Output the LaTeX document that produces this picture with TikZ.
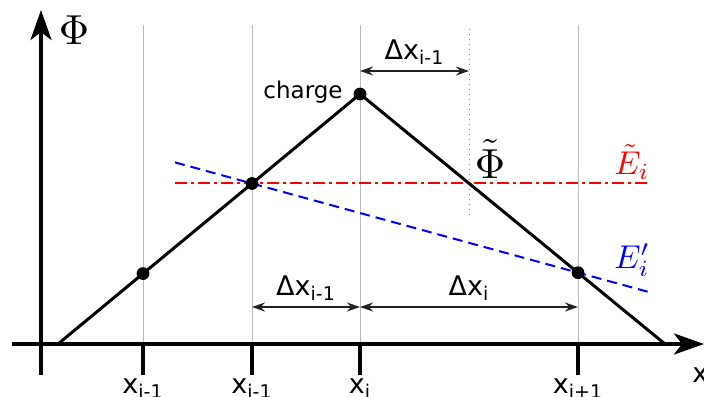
\documentclass[tikz,border=0pt]{standalone}
\usepackage{graphicx}
\usepackage{fontspec}
\setmainfont{DejaVu Sans}
\usepackage{xcolor}
\definecolor{cGrid}{HTML}{BBBBBB}
\definecolor{cDot}{HTML}{888888}
\definecolor{cDim}{HTML}{222222}
\definecolor{cRed}{HTML}{FF0000}
\definecolor{cBlue}{HTML}{0000FF}
\usepackage{tikz}
\usetikzlibrary{positioning,arrows.meta,calc}
\tikzset{
  axis-line/.style={line width=2pt,draw=black},
  axis-arrow/.style={axis-line,-{Stealth[length=15pt,width=10.5pt,inset=4pt]}},
  grid-line/.style={draw=cGrid,line width=0.5pt},
  grid-dotted/.style={draw=cDot,line width=0.5pt,dotted},
  tick-line/.style={draw=black,line width=2pt},
  curve-line/.style={draw=black,line width=1.5pt,line join=round},
  node-dot/.style={circle,fill=black,inner sep=0pt,minimum size=6.4pt},
  dim-arrow/.style={{Stealth[length=6.5pt,width=4.5pt]}-{Stealth[length=6.5pt,width=4.5pt]},
    draw=cDim,line width=0.6pt},
  line-etilde/.style={draw=cRed,line width=1pt,dash pattern=on 6pt off 2pt on 1.5pt off 2pt},
  line-eprime/.style={draw=cBlue,line width=1pt,dash pattern=on 5pt off 3pt},
  label-sans/.style={font=\fontsize{13.5}{16}\selectfont,inner sep=1pt},
  label-math/.style={inner sep=0pt},
}
\newcommand{\bigmath}[2]{\scalebox{#1}{$#2$}}

\begin{document}
\begin{tikzpicture}[x=0.5pt,y=0.5pt]
  \useasboundingbox (-41,-52) rectangle (663,344);
  % axes
  \coordinate (xl) at (-29,0);
  \coordinate (xr) at (663,0);
  \coordinate (yb) at (0,-31);
  \coordinate (yt) at (0,334);
  \coordinate (top) at (0,319);
  \coordinate (tickend) at (0,-31);
  % grid positions
  \coordinate (g1) at (102,0);
  \coordinate (g2) at (211,0);
  \coordinate (g3) at (319,0);
  \coordinate (g4) at (537,0);
  \coordinate (gm) at (428,129);
  \draw[grid-line] (g1) -- (g1 |- top);
  \draw[grid-line] (g2) -- (g2 |- top);
  \draw[grid-line] (g3) -- (g3 |- top);
  \draw[grid-line] (g4) -- (g4 |- top);
  \draw[grid-dotted] (gm) -- (gm |- top);

  % fields
  \coordinate (r1) at (134,160.5);
  \coordinate (r2) at (607,160.5);
  \coordinate (b1) at (134,181.6);
  \coordinate (b2) at (607,52.2);
  \draw[line-etilde] (r1) -- (r2);
  \draw[line-eprime] (b1) -- (b2);

  % potential
  \coordinate (a) at (17,0);
  \coordinate (p1) at (102,70.4);
  \coordinate (p2) at (211,160.5);
  \coordinate (pc) at (319,250);
  \coordinate (p3) at (537,71.3);
  \coordinate (b) at (624,0);
  \draw[curve-line] (a) -- (p1) -- (p2) -- (pc) -- (p3) -- (b);
  \node[node-dot] (d1) at (p1) {};
  \node[node-dot] (d2) at (p2) {};
  \node[node-dot] (dc) at (pc) {};
  \node[node-dot] (d3) at (p3) {};

  \draw[axis-arrow] (xl) -- (xr);
  \draw[axis-arrow] (yb) -- (yt);
  \draw[tick-line] (g1) -- (g1 |- tickend) node[label-sans,below] (lx1) {x\textsubscript{i-1}};
  \draw[tick-line] (g2) -- (g2 |- tickend) node[label-sans,below] (lx2) {x\textsubscript{i-1}};
  \draw[tick-line] (g3) -- (g3 |- tickend) node[label-sans,below] (lx3) {x\textsubscript{i}};
  \draw[tick-line] (g4) -- (g4 |- tickend) node[label-sans,below] (lx4) {x\textsubscript{i+1}};

  % spacings
  \coordinate (t1) at (319,273);
  \coordinate (t2) at (428,273);
  \coordinate (s1) at (211,37);
  \coordinate (s2) at (319,37);
  \coordinate (s3) at (537,37);
  \draw[dim-arrow] (t1) -- node[label-sans,above=2pt] (ldt) {Δx\textsubscript{i-1}} (t2);
  \draw[dim-arrow] (s1) -- node[label-sans,above=2pt] (lds1) {Δx\textsubscript{i-1}} (s2);
  \draw[dim-arrow] (s2) -- node[label-sans,above=2pt] (lds2) {Δx\textsubscript{i}} (s3);

  % labels
  \node[label-math] (lphi) at (33,314) {\bigmath{2.1}{\Phi}};
  \node[label-math] (lphit) at (449,185) {\bigmath{2.1}{\tilde\Phi}};
  \node[label-math,text=cRed] (let) at (591,182) {\bigmath{1.65}{\tilde E_i}};
  \node[label-math,text=cBlue] (lep) at (591,84) {\bigmath{1.65}{E'_i}};
  \node[font=\fontsize{11.5}{13}\selectfont,inner sep=0pt,anchor=base east] (lch) at (302,245) {charge};
  \node[label-sans,inner sep=0pt,anchor=west] (lxa) at (651,-31) {x};
\end{tikzpicture}
\end{document}
